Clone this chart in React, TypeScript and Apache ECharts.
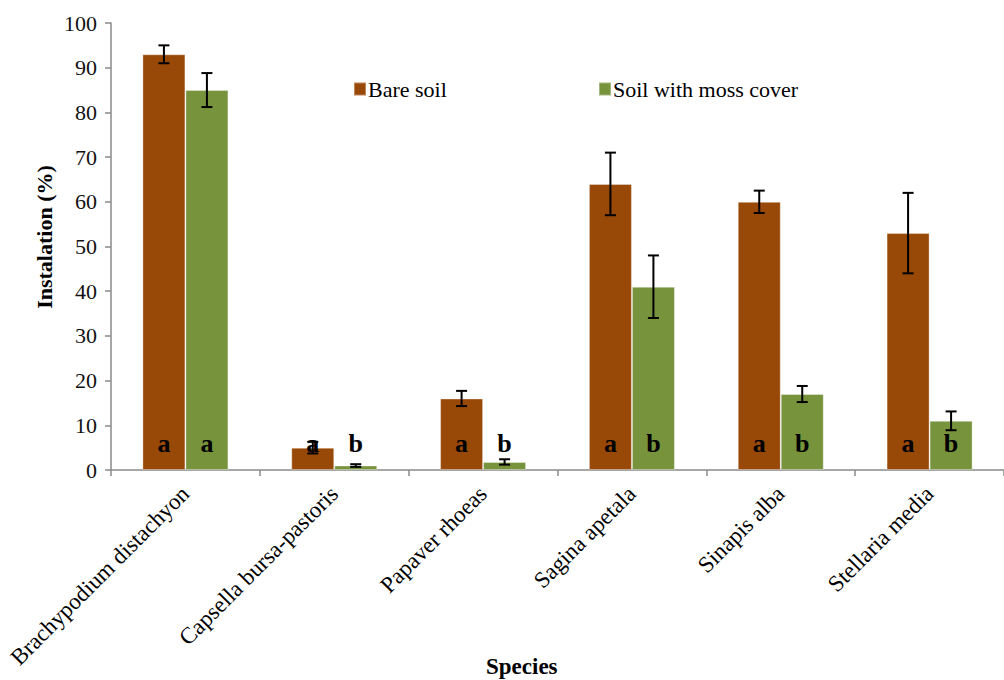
import React, { useEffect, useRef } from "react";
import * as echarts from "echarts";

// Species on the category axis
const species = [
  "Brachypodium distachyon",
  "Capsella bursa-pastoris",
  "Papaver rhoeas",
  "Sagina apetala",
  "Sinapis alba",
  "Stellaria media",
];

// Mean instalation (%) and error per treatment
const bareSoil = [93, 5, 16, 64, 60, 53];
const bareSoilErr = [2, 1.3, 1.7, 7, 2.5, 9];
const mossCover = [85, 1, 1.8, 41, 17, 11];
const mossCoverErr = [3.8, 0.3, 0.6, 7, 1.8, 2.1];

// Significance letters drawn at the foot of each bar
const bareLetters = ["a", "a", "a", "a", "a", "a"];
const mossLetters = ["a", "b", "b", "b", "b", "b"];

const yTicks = { min: 0, max: 100, interval: 10 };

const SERIF = "'Liberation Serif', 'Times New Roman', Times, serif";
const BROWN = "#984807";
const GREEN = "#77933C";
const BAR_W = 43;

function errorSeries(values: number[], errs: number[], side: number) {
  return {
    type: "custom",
    silent: true,
    z: 5,
    encode: { x: 0, y: 1 },
    data: values.map((v, i) => [i, v, errs[i]]),
    renderItem: (_params: any, api: any) => {
      const idx = api.value(0);
      const v = api.value(1);
      const e = api.value(2);
      const top = api.coord([idx, v + e]);
      const bot = api.coord([idx, v - e]);
      const x = top[0] + (side * BAR_W) / 2;
      const cap = 5.5;
      const style = { stroke: "#000", lineWidth: 2 };
      return {
        type: "group",
        children: [
          { type: "line", shape: { x1: x, y1: top[1], x2: x, y2: bot[1] }, style },
          { type: "line", shape: { x1: x - cap, y1: top[1], x2: x + cap, y2: top[1] }, style },
          { type: "line", shape: { x1: x - cap, y1: bot[1], x2: x + cap, y2: bot[1] }, style },
        ],
      };
    },
  };
}

function letterLabel(letters: string[]) {
  return {
    show: true,
    position: "insideBottom",
    distance: 14,
    formatter: (p: any) => letters[p.dataIndex],
    fontFamily: SERIF,
    fontWeight: "bold",
    fontSize: 26,
    lineHeight: 26,
    color: "#000",
  };
}

export default function App() {
  const ref = useRef<HTMLDivElement>(null);

  useEffect(() => {
    if (!ref.current) return;
    const chart = echarts.init(ref.current, null, { renderer: "svg" });
    const axisGray = "#8a8a8a";
    const legendText = { fontFamily: SERIF, fontSize: 22, color: "#000", padding: [0, 0, 0, -3] };
    chart.setOption({
      animation: false,
      backgroundColor: "#fff",
      textStyle: { fontFamily: SERIF },
      grid: { left: 111, right: -9, top: 23, bottom: 210, containLabel: false },
      title: {
        text: "Species",
        left: 486,
        top: 655,
        padding: 0,
        textStyle: { fontFamily: SERIF, fontWeight: "bold", fontSize: 23, color: "#000" },
      },
      graphic: [
        {
          type: "text",
          x: 44,
          y: 237,
          rotation: Math.PI / 2,
          style: {
            text: "Instalation (%)",
            font: `bold 22px ${SERIF}`,
            fill: "#000",
            align: "center",
            verticalAlign: "middle",
          },
        },
      ],
      legend: [
        {
          data: ["Bare soil"],
          left: 353,
          top: 78,
          padding: 0,
          icon: "rect",
          itemWidth: 12,
          itemHeight: 13,
          itemGap: 0,
          textStyle: legendText,
        },
        {
          data: ["Soil with moss cover"],
          left: 598,
          top: 78,
          padding: 0,
          icon: "rect",
          itemWidth: 12,
          itemHeight: 13,
          itemGap: 0,
          textStyle: legendText,
        },
      ],
      xAxis: {
        type: "category",
        data: species,
        axisLine: { lineStyle: { color: axisGray, width: 1.5 } },
        axisTick: { show: true, length: 6, lineStyle: { color: axisGray, width: 1.5 } },
        axisLabel: {
          rotate: 45,
          margin: 20,
          interval: 0,
          fontFamily: SERIF,
          fontSize: 23,
          color: "#000",
        },
      },
      yAxis: {
        type: "value",
        min: yTicks.min,
        max: yTicks.max,
        interval: yTicks.interval,
        axisLine: { show: true, lineStyle: { color: axisGray, width: 1.5 } },
        axisTick: { show: true, length: 6, lineStyle: { color: axisGray, width: 1.5 } },
        splitLine: { show: false },
        axisLabel: { margin: 14, fontFamily: SERIF, fontSize: 22, color: "#111" },
      },
      series: [
        {
          name: "Bare soil",
          type: "bar",
          data: bareSoil,
          barWidth: BAR_W,
          barGap: "0%",
          itemStyle: { color: BROWN, borderColor: "rgba(255,255,255,0.35)", borderWidth: 1 },
          label: letterLabel(bareLetters),
        },
        {
          name: "Soil with moss cover",
          type: "bar",
          data: mossCover,
          barWidth: BAR_W,
          barGap: "0%",
          itemStyle: { color: GREEN, borderColor: "rgba(255,255,255,0.35)", borderWidth: 1 },
          label: letterLabel(mossLetters),
        },
        errorSeries(bareSoil, bareSoilErr, -1),
        errorSeries(mossCover, mossCoverErr, 1),
      ],
    });
    return () => chart.dispose();
  }, []);

  return (
    <div
      ref={ref}
      style={{ position: "fixed", left: 0, top: 0, width: 1004, height: 680 }}
    />
  );
}
